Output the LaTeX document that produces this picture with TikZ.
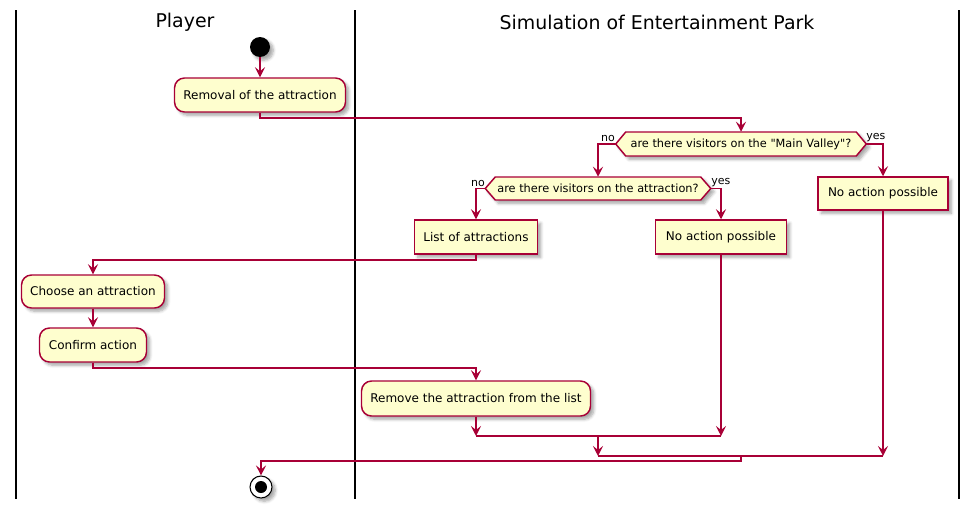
\documentclass[tikz,border=0pt]{standalone}
\usepackage{fontspec}
\setmainfont{DejaVu Sans}[Ligatures=TeXOff]
\usetikzlibrary{arrows.meta,calc,shadows.blur}
\definecolor{uline}{HTML}{A80036}
\definecolor{ufill}{HTML}{FEFECE}
\tikzset{
  shad/.style={blur shadow={shadow xshift=2.5pt,shadow yshift=-2.5pt,shadow blur steps=6,shadow opacity=35}},
  act/.style={draw=uline,fill=ufill,line width=1.1pt,rounded corners=7.5pt,font=\fontsize{9}{11}\selectfont,inner sep=0pt,shad},
  box/.style={draw=uline,fill=ufill,line width=1.1pt,font=\fontsize{9}{11}\selectfont,inner sep=0pt,shad},
  dtext/.style={inner sep=0pt,font=\fontsize{8.5}{10}\selectfont},
  hexa/.style={draw=uline,fill=ufill,line width=1.1pt,shad},
  lab/.style={inner sep=0pt,font=\fontsize{8.25}{10}\selectfont},
  conn/.style={draw=uline,line width=1.15pt},
  arr/.style={conn,-{Stealth[length=7.5pt,width=7.5pt,inset=3pt]}},
  lane/.style={line width=1.5pt,black},
  title/.style={font=\fontsize{14.2}{16}\selectfont,inner sep=0pt},
}
\begin{document}
\begin{tikzpicture}[x=0.75pt,y=-0.75pt]
\useasboundingbox (0,0) rectangle (978,514);
% lanes
\draw[lane] (16,10) -- (16,499);
\draw[lane] (355,10) -- (355,499);
\draw[lane] (959,10) -- (959,499);
\node[title] (t1) at (185,22) {Player};
\node[title] (t2) at (657,22) {Simulation of Entertainment Park};
% start
\node[circle,fill=black,minimum size=0.75*20,inner sep=0pt,shad] (start) at (260,47) {};
\node[act,minimum width=0.75*171,minimum height=0.75*34] (a1) at (260,95) {Removal of the attraction};
% decision 1
\node[dtext,minimum width=0.75*250,minimum height=0.75*24] (d1) at (741,144) {};
\path[hexa] (d1.west) -- ++(10,-12) -- ($(d1.east)+(-10,-12)$) -- (d1.east) -- ++(-10,12) -- ($(d1.west)+(10,12)$) -- cycle;
\node[dtext] at (d1) {are there visitors on the "Main Valley"?};
% decision 2
\node[dtext,minimum width=0.75*225,minimum height=0.75*23] (d2) at (598,188.5) {};
\path[hexa] (d2.west) -- ++(10,-11.5) -- ($(d2.east)+(-10,-11.5)$) -- (d2.east) -- ++(-10,11.5) -- ($(d2.west)+(10,11.5)$) -- cycle;
\node[dtext] at (d2) {are there visitors on the attraction?};
\node[box,minimum width=0.75*130,minimum height=0.75*33] (b3) at (883,193.5) {No action possible};
\node[box,minimum width=0.75*123,minimum height=0.75*34] (b1) at (476,237) {List of attractions};
\node[box,minimum width=0.75*131,minimum height=0.75*34] (b2) at (721,237) {No action possible};
\node[act,minimum width=0.75*143,minimum height=0.75*33] (a2) at (93,291.5) {Choose an attraction};
\node[act,minimum width=0.75*107,minimum height=0.75*34] (a3) at (93,345) {Confirm action};
\node[act,minimum width=0.75*229,minimum height=0.75*35] (a4) at (476,398.5) {Remove the attraction from the list};
% end
\node[circle,draw=black,fill=white,line width=0.8pt,minimum size=0.75*22,inner sep=0pt,shad] (end) at (261,487) {};
\node[circle,fill=black,minimum size=0.75*12,inner sep=0pt] (endc) at (end) {};
% labels
\node[lab,anchor=south east] (l1) at (615,142) {no};
\node[lab,anchor=south west] (l2) at (866,142) {yes};
\node[lab,anchor=south east] (l3) at (485,187) {no};
\node[lab,anchor=south west] (l4) at (711,187) {yes};
% merge coordinates
\coordinate (m1) at (598,436);
\coordinate (m2) at (598,456);
\coordinate (m3) at (741,461);
% connectors
\draw[arr] (start) -- (a1.north);
\draw[arr] (a1.south) -- ++(0,5) -| (d1.north);
\draw[arr] (d1.west) -| (d2.north);
\draw[arr] (d1.east) -| (b3.north);
\draw[arr] (d2.west) -| (b1.north);
\draw[arr] (d2.east) -| (b2.north);
\draw[arr] (b1.south) -- ++(0,5) -| (a2.north);
\draw[arr] (a2.south) -- (a3.north);
\draw[arr] (a3.south) -- ++(0,5) -| (a4.north);
\draw[arr] (a4.south) -- (a4.south |- m1);
\draw[arr] (b2.south) -- (b2.south |- m1);
\draw[conn] (a4.south |- m1) -- (b2.south |- m1);
\draw[arr] (m1) -- (m2);
\draw[arr] (b3.south) -- (b3.south |- m2);
\draw[conn] (m2) -- (b3.south |- m2);
\draw[arr] (m3 |- m2) -- (m3) -| (end.north);
\end{tikzpicture}
\end{document}
